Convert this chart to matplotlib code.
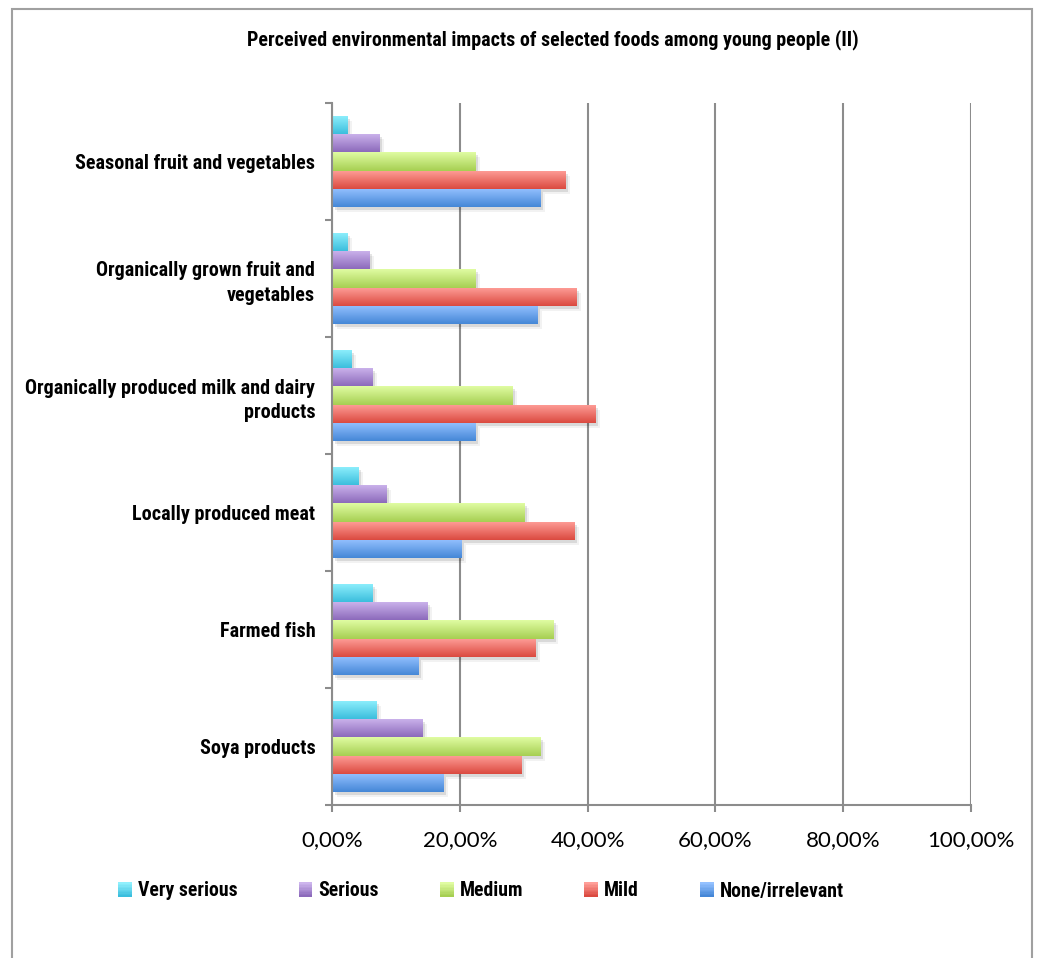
import numpy as np
import matplotlib
matplotlib.use("Agg")
import matplotlib.pyplot as plt
from matplotlib import font_manager as fm, transforms
from matplotlib.colors import LinearSegmentedColormap
from matplotlib.patches import Rectangle
from matplotlib.legend_handler import HandlerBase

# ---- data -------------------------------------------------------------
categories = [
    "Soya products",
    "Farmed fish",
    "Locally produced meat",
    "Organically produced milk and dairy\nproducts",
    "Organically grown fruit and\nvegetables",
    "Seasonal fruit and vegetables",
]
series_names = ["Very serious", "Serious", "Medium", "Mild", "None/irrelevant"]
very_serious = [7.0, 6.3, 4.1, 3.0, 2.5, 2.5]
serious = [14.2, 14.9, 8.5, 6.3, 5.9, 7.4]
medium = [32.7, 34.7, 30.2, 28.2, 22.4, 22.4]
mild = [29.7, 31.8, 38.0, 41.2, 38.2, 36.5]
none_irrelevant = [17.4, 13.6, 20.3, 22.4, 32.2, 32.7]
x_ticks = [0, 20, 40, 60, 80, 100]
x_tick_labels = ["0,00%", "20,00%", "40,00%", "60,00%", "80,00%", "100,00%"]
title = "Perceived environmental impacts of selected foods among young people (II)"

# top / bottom shades of each series' gradient fill
top_colors = ["#90f0fd", "#cdb5ed", "#e0fca2", "#ff9f99", "#94c1ff"]
bottom_colors = ["#3bbedd", "#8c6abb", "#a6cf52", "#db4a40", "#4587d7"]

# ---- fonts ------------------------------------------------------------
available = {f.name for f in fm.fontManager.ttflist}


def pick(cands):
    for c in cands:
        if c in available:
            return c
    return "DejaVu Sans"


bold_font = pick(["Liberation Sans Narrow", "Roboto Condensed", "Open Sans Condensed", "Roboto", "Lato"])
tick_font = pick(["Lato", "Open Sans", "Liberation Sans", "DejaVu Sans"])

W, H = 1040, 958
fig = plt.figure(figsize=(W / 100, H / 100), dpi=100)
fig.patch.set_facecolor("white")

left, right, top, bottom = 332, 971, 103, 805
ax = fig.add_axes([left / W, 1 - bottom / H, (right - left) / W, (bottom - top) / H])

all_series = [very_serious, serious, medium, mild, none_irrelevant]
y = np.arange(len(categories))
bar_h = 0.154
grid_col = "#8c8c8c"

shadow1 = transforms.offset_copy(ax.transData, fig=fig, x=2.5, y=-3, units="dots")
shadow2 = transforms.offset_copy(ax.transData, fig=fig, x=4.5, y=-5, units="dots")

for i, vals in enumerate(all_series):
    pos = y + (2 - i) * bar_h
    ax.barh(pos, vals, height=bar_h, color="black", alpha=0.10, lw=0,
            transform=shadow1, zorder=2)
    ax.barh(pos, vals, height=bar_h, color="black", alpha=0.05, lw=0,
            transform=shadow2, zorder=2)
    bars = ax.barh(pos, vals, height=bar_h, color=bottom_colors[i], lw=0, zorder=3)
    cmap = LinearSegmentedColormap.from_list(f"g{i}", [bottom_colors[i], top_colors[i]])
    grad = np.linspace(0, 1, 64).reshape(-1, 1)
    for r in bars:
        x0, y0, w, h = r.get_x(), r.get_y(), r.get_width(), r.get_height()
        im = ax.imshow(grad, cmap=cmap, extent=(x0, x0 + w, y0, y0 + h),
                       origin="lower", aspect="auto", zorder=4, interpolation="bilinear")
        im.set_clip_path(r)

ax.set_xlim(0, 100)
ax.set_ylim(-0.5, len(categories) - 0.5)

ax.set_xticks(x_ticks)
ax.set_xticklabels(x_tick_labels, fontfamily=tick_font, fontsize=16)
ax.set_yticks(y)
ax.set_yticklabels(categories, fontfamily=bold_font, fontweight="bold", fontsize=14.5,
                   multialignment="right", linespacing=1.35)
ax.set_yticks(np.arange(-0.5, len(categories), 1.0), minor=True)

ax.tick_params(axis="y", which="major", length=0, pad=12)
ax.tick_params(axis="y", which="minor", length=5, width=1.5, color=grid_col, direction="out")
ax.tick_params(axis="x", which="major", length=5, width=1.5, color=grid_col,
               direction="out", pad=13)

ax.grid(axis="x", color=grid_col, lw=1.5, zorder=1)
ax.set_axisbelow(True)
for s in ["top", "right"]:
    ax.spines[s].set_visible(False)
for s in ["left", "bottom"]:
    ax.spines[s].set_color(grid_col)
    ax.spines[s].set_linewidth(1.5)
    ax.spines[s].set_zorder(5)


# ---- legend with gradient swatches -------------------------------------
class GradientSwatch(HandlerBase):
    def __init__(self, top_c, bot_c):
        super().__init__()
        self.top_c, self.bot_c = top_c, bot_c

    def create_artists(self, legend, orig_handle, xdescent, ydescent, width, height,
                       fontsize, trans):
        side = min(width, height)
        x0 = -xdescent + (width - side) / 2
        y0 = -ydescent + (height - side) / 2
        cmap = LinearSegmentedColormap.from_list("s", [self.bot_c, self.top_c])
        n = 10
        arts = []
        for k in range(n):
            arts.append(Rectangle((x0, y0 + side * k / n), side, side / n + 0.3,
                                  facecolor=cmap(k / (n - 1)), edgecolor="none",
                                  transform=trans))
        return arts


handles = [Rectangle((0, 0), 1, 1, facecolor=c) for c in bottom_colors]
handler_map = {h: GradientSwatch(t, b) for h, t, b in zip(handles, top_colors, bottom_colors)}
fig.legend(handles, series_names, handler_map=handler_map, loc="center",
           bbox_to_anchor=(481 / W, 1 - 891 / H), ncol=5, frameon=False,
           prop={"family": bold_font, "weight": "bold", "size": 14.2},
           handlelength=0.7, handleheight=0.7, handletextpad=0.3, columnspacing=3.1)

fig.text(553 / W, 1 - 40 / H, title, ha="center", va="center",
         fontfamily=bold_font, fontweight="bold", fontsize=14.4)

# outer chart border
fig.add_artist(Rectangle((11.5 / W, -0.05), (1032 - 11.5) / W, 1.05 - 9 / H,
                         transform=fig.transFigure, fill=False, ec="#a0a0a0", lw=1.5))

fig.savefig("out.png", dpi=100, facecolor="white")
